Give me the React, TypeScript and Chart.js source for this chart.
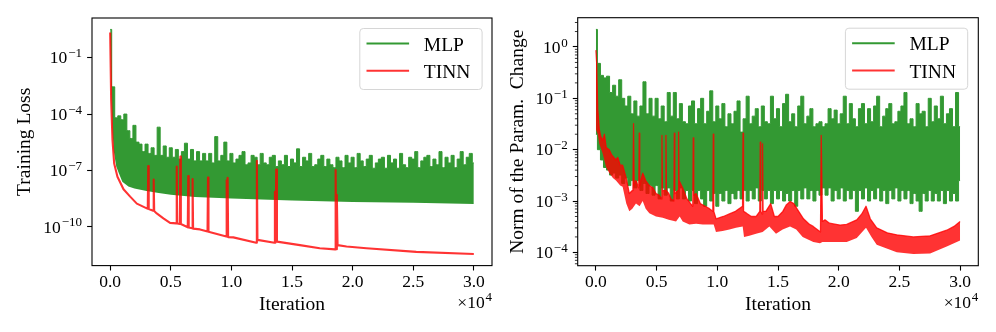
import React, { useEffect, useRef } from 'react';
import { Chart, registerables } from 'chart.js';

Chart.register(...registerables);

// ---------- shared axis data ----------
const iterGrid = [
  0, 250, 500, 750, 1000, 1250, 1500, 1750, 2000, 2250, 2500, 2750, 3000, 3250, 3500, 3750, 4000, 4250, 4500, 4750,
  5000, 5250, 5500, 5750, 6000, 6250, 6500, 6750, 7000, 7250, 7500, 7750, 8000, 8250, 8500, 8750, 9000, 9250, 9500, 9750,
  10000, 10250, 10500, 10750, 11000, 11250, 11500, 11750, 12000, 12250, 12500, 12750, 13000, 13250, 13500, 13750, 14000, 14250, 14500, 14750,
  15000, 15250, 15500, 15750, 16000, 16250, 16500, 16750, 17000, 17250, 17500, 17750, 18000, 18250, 18500, 18750, 19000, 19250, 19500, 19750,
  20000, 20250, 20500, 20750, 21000, 21250, 21500, 21750, 22000, 22250, 22500, 22750, 23000, 23250, 23500, 23750, 24000, 24250, 24500, 24750,
  25000, 25250, 25500, 25750, 26000, 26250, 26500, 26750, 27000, 27250, 27500, 27750, 28000, 28250, 28500, 28750, 29000, 29250, 29500, 29750,
  30000,
];
const xTickValues = [0, 5000, 10000, 15000, 20000, 25000, 30000];
const xTickLabels = ['0.0', '0.5', '1.0', '1.5', '2.0', '2.5', '3.0'];
const seriesNames = ['MLP', 'TINN'];

// ---------- left panel: training loss ----------
const mlpLossTop = [
  3.2, 2.8e-3, 6.3e-5, 8e-5, 5e-5, 1e-4, 1.3e-5, 5e-6, 2.5e-5, 3.2e-6,
  2.5e-6, 1e-6, 2.5e-6, 8e-7, 1.6e-6, 6.3e-7, 2e-5, 6.3e-7, 2e-6, 5e-7,
  1.6e-6, 5e-7, 1.3e-6, 4e-7, 1e-6, 2.8e-6, 4e-7, 1.3e-6, 3.2e-7, 1e-6,
  3.2e-7, 8e-7, 3.2e-7, 8e-7, 2.5e-7, 6.3e-6, 3.2e-7, 6.3e-7, 3.2e-6, 3.2e-7,
  8e-7, 2.5e-7, 4e-7, 6.3e-7, 1e-6, 2e-7, 2.5e-7, 6.3e-7, 5e-7, 2e-7,
  8e-7, 2.5e-7, 2e-7, 5e-7, 6.3e-7, 1.6e-7, 3.2e-7, 2e-7, 6.3e-7, 1.6e-7,
  4e-7, 2.5e-7, 1.4e-6, 1.6e-7, 5e-7, 3.2e-7, 8e-7, 1.6e-7, 2e-7, 4e-7,
  6.3e-7, 1.6e-7, 4e-7, 2e-7, 1.4e-7, 5e-7, 3.2e-7, 1.4e-7, 6.3e-7, 2.5e-7,
  5e-7, 1.4e-7, 8e-7, 3.2e-7, 1.6e-7, 4e-7, 6.3e-7, 1.3e-7, 2.5e-7, 4e-7,
  5e-7, 1.3e-7, 6.3e-7, 2.5e-7, 4e-7, 1.3e-7, 8e-7, 2e-7, 1.4e-7, 5e-7,
  4e-7, 1e-6, 1.4e-7, 3.2e-7, 5e-7, 6.3e-7, 1.6e-7, 4e-7, 2e-7, 1e-6,
  1.4e-7, 5e-7, 2.5e-7, 6.3e-7, 1.4e-7, 4e-7, 1e-6, 2e-7, 5e-7, 8e-7,
  2.5e-7,
];
const mlpLossLowIter = [0, 100, 200, 300, 500, 750, 1000, 1500, 2000, 3000, 4000, 5000, 7000, 10000, 15000, 20000, 25000, 30000];
const mlpLossLow = [2, 1e-3, 1e-5, 1e-6, 1.6e-7, 6.3e-8, 2.5e-8, 1.4e-8, 1.1e-8, 7.9e-9, 6.3e-9, 5e-9, 3.8e-9, 3.2e-9, 2.5e-9, 2.1e-9, 1.9e-9, 1.6e-9];

const tinnLossIter = [
  0, 80, 190, 330, 600, 1100, 1650, 2200, 3020,
  3100, 3140, 3180, 3550, 3590, 3630, 3840, 4390, 4940,
  5450, 5490, 5530, 5750, 5790, 5830, 6400, 6440, 6480,
  6760, 6800, 6840, 7410, 8030, 8070, 8110,
  9580, 9610, 9650, 9690, 9730, 10160,
  12050, 12100, 12150, 13550, 13590, 13630, 13700, 13760,
  15650, 17290, 18550, 18600, 18650, 18700, 18760,
  19500, 21140, 25250, 30000,
];
const tinnLoss = [
  2.2, 5.6e-4, 4.2e-6, 2.3e-7, 4.6e-8, 9.8e-9, 4e-9, 1.7e-9, 9.5e-10,
  9.1e-10, 1.7e-7, 8.7e-10, 7.1e-10, 3.2e-8, 6.8e-10, 5.1e-10, 2.8e-10, 1.6e-10,
  1.5e-10, 1.6e-7, 1.5e-10, 1.4e-10, 5.4e-7, 1.4e-10, 9.3e-11, 5e-8, 9.1e-11,
  8.3e-11, 3.5e-8, 7.9e-11, 7.2e-11, 5.6e-11, 4.1e-8, 5.4e-11,
  3e-11, 3e-8, 2.9e-11, 4e-8, 2.8e-11, 2.7e-11,
  1.4e-11, 3.2e-7, 2e-11, 1.4e-11, 7.2e-9, 1.4e-11, 1.1e-7, 1.6e-11,
  1.05e-11, 7.1e-12, 6.2e-12, 1.05e-7, 6.3e-12, 5e-9, 1.05e-11,
  8.9e-12, 7.1e-12, 4.6e-12, 3.5e-12,
];
const lossTickValues = [1e-1, 1e-4, 1e-7, 1e-10];
const lossTickExps = ['\u22121', '\u22124', '\u22127', '\u221210'];

// ---------- right panel: norm of the parameter change ----------
const mlpNormTop = [
  2.2, 0.48, 0.28, 0.25, 0.27, 0.13, 0.18, 0.11, 0.23, 0.1,
  0.071, 0.11, 0.05, 0.089, 0.045, 0.071, 0.21, 0.05, 0.1, 0.045,
  0.1, 0.04, 0.071, 0.035, 0.13, 0.045, 0.13, 0.04, 0.079, 0.035,
  0.032, 0.071, 0.089, 0.032, 0.063, 0.1, 0.032, 0.056, 0.14, 0.035,
  0.071, 0.04, 0.079, 0.028, 0.05, 0.032, 0.056, 0.089, 0.022, 0.04,
  0.11, 0.032, 0.045, 0.063, 0.028, 0.071, 0.035, 0.032, 0.11, 0.04,
  0.063, 0.028, 0.079, 0.12, 0.035, 0.05, 0.028, 0.071, 0.11, 0.032,
  0.045, 0.063, 0.028, 0.032, 0.035, 0.028, 0.032, 0.063, 0.04, 0.059,
  0.032, 0.05, 0.11, 0.032, 0.079, 0.04, 0.028, 0.063, 0.079, 0.032,
  0.063, 0.035, 0.071, 0.11, 0.028, 0.045, 0.063, 0.079, 0.032, 0.035,
  0.056, 0.071, 0.13, 0.032, 0.04, 0.028, 0.079, 0.05, 0.056, 0.028,
  0.1, 0.035, 0.071, 0.04, 0.11, 0.032, 0.05, 0.063, 0.028, 0.13,
  0.028,
];
const mlpNormLow = [
  0.02, 0.01, 6.3e-3, 4.5e-3, 4e-3, 3.2e-3, 3.5e-3, 2.8e-3, 3.2e-3, 2.2e-3,
  2.8e-3, 2e-3, 2.5e-3, 1.8e-3, 2.5e-3, 1.6e-3, 2.2e-3, 1.4e-3, 2e-3, 1.3e-3,
  2e-3, 1.1e-3, 1.8e-3, 1.3e-3, 1.8e-3, 1e-3, 1.6e-3, 1.1e-3, 1.8e-3, 1.1e-3,
  1.6e-3, 1e-3, 1.6e-3, 8.9e-4, 1.6e-3, 1.1e-3, 7.9e-4, 1.6e-3, 1e-3, 1.4e-3,
  7.9e-4, 1.4e-3, 1e-3, 1.6e-3, 8.9e-4, 1.4e-3, 1.1e-3, 1.6e-3, 1.1e-3, 1.6e-3,
  1e-3, 1.6e-3, 1.1e-3, 1.8e-3, 1e-3, 1.6e-3, 1.1e-3, 1.6e-3, 8.9e-4, 1.6e-3,
  1.1e-3, 1.6e-3, 1e-3, 1.4e-3, 1e-3, 1.6e-3, 7.9e-4, 1.6e-3, 1.1e-3, 1.8e-3,
  1.1e-3, 1.6e-3, 1e-3, 1.6e-3, 1.3e-3, 1.8e-3, 1.3e-3, 1.8e-3, 1e-3, 1.6e-3,
  1.1e-3, 1.8e-3, 1e-3, 1.6e-3, 1.1e-3, 1.6e-3, 6.3e-4, 1.6e-3, 1.1e-3, 1.8e-3,
  1e-3, 1.6e-3, 1.1e-3, 1.8e-3, 1e-3, 1.6e-3, 8.9e-4, 1.6e-3, 1.1e-3, 1.8e-3,
  1e-3, 1.6e-3, 1.1e-3, 1.6e-3, 8.9e-4, 1.4e-3, 1e-3, 6.3e-4, 1.4e-3, 1e-3,
  1.6e-3, 1e-3, 1.4e-3, 1e-3, 1.6e-3, 8.9e-4, 1.6e-3, 1e-3, 1.4e-3, 1e-3,
  2.5e-3,
];
const tinnNormTopIter = [
  0, 60, 150, 275, 400, 550, 700, 850, 1100, 1300,
  1650, 1800, 2000, 2200, 2500, 2750, 3000, 3050, 3100, 3150,
  3300, 3530, 3570, 3610, 3850, 4100, 4400, 4700, 4950, 5200,
  5400, 5440, 5480, 5730, 5770, 5810, 6000, 6200, 6420, 6460,
  6500, 6770, 6810, 6850, 7150, 7500, 7800, 7980, 8020, 8060,
  8250, 8600, 9000, 9350, 9630, 9670, 9710, 9900, 10500, 11000,
  11500, 12080, 12120, 12160, 12400, 12800, 13200, 13500, 13540, 13580,
  13690, 13730, 13770, 14000, 14400, 14700, 15000, 15400, 15700, 16000,
  16300, 16700, 17100, 17600, 17900, 18500, 18560, 18660, 18870, 19240,
  20110, 20660, 21490, 21900, 22250, 22600, 23130, 24000, 24780, 26150,
  27530, 28900, 29500, 30000,
];
const tinnNormTop = [
  0.87, 0.5, 0.063, 0.025, 0.018, 0.015, 0.02, 0.011, 0.01, 7.9e-3,
  6.3e-3, 7.1e-3, 5e-3, 5e-3, 2.8e-3, 1.4e-3, 1.6e-3, 1.8e-3, 0.032, 2e-3,
  2.5e-3, 1.8e-3, 0.021, 2e-3, 3.5e-3, 2.5e-3, 2e-3, 1.8e-3, 1.4e-3, 1.3e-3,
  1.1e-3, 0.019, 1.6e-3, 1.6e-3, 0.019, 1.6e-3, 1.4e-3, 1.1e-3, 1e-3, 0.021,
  1.4e-3, 1.6e-3, 0.022, 2.5e-3, 1.8e-3, 1.1e-3, 8.9e-4, 7.9e-4, 0.017, 1.3e-3,
  1.4e-3, 8.9e-4, 7.9e-4, 7.1e-4, 6.3e-4, 0.02, 6.3e-4, 4.5e-4, 5e-4, 5.6e-4,
  6.3e-4, 7.9e-4, 0.021, 6.3e-4, 5.8e-4, 5e-4, 5e-4, 6.3e-4, 0.014, 6.3e-4,
  5.6e-4, 0.013, 6.3e-4, 6.3e-4, 8.9e-4, 5e-4, 5e-4, 6.3e-4, 8.5e-4, 9.8e-4,
  8.9e-4, 6.3e-4, 4.5e-4, 3.5e-4, 3.2e-4, 2.5e-4, 0.019, 4e-4, 4.3e-4, 3.7e-4,
  3.4e-4, 3.5e-4, 4.3e-4, 5.6e-4, 7.9e-4, 4.5e-4, 3e-4, 2.4e-4, 2.2e-4, 2e-4,
  2.1e-4, 2.7e-4, 3.2e-4, 4e-4,
];
const tinnNormLowIter = [
  0, 150, 275, 550, 850, 1100, 1400, 1650, 2000, 2200,
  2500, 2750, 3000, 3300, 3600, 3850, 4100, 4400, 4950, 5500,
  6000, 6600, 6900, 7150, 7700, 8250, 8800, 9340, 9700, 9890,
  10440, 11000, 11540, 12090, 12200, 12640, 13190, 13736, 14286, 14835,
  15385, 15990, 16500, 17030, 17910, 18460, 18660, 19240, 20110, 20660,
  21490, 22250, 22700, 23130, 24780, 26150, 27530, 28900, 30000,
];
const tinnNormLow = [
  0.025, 0.02, 0.013, 8.5e-3, 4.5e-3, 3.5e-3, 2.8e-3, 2.5e-3, 2e-3, 1.9e-3,
  8.9e-4, 6.3e-4, 7.1e-4, 8.9e-4, 7.9e-4, 1e-3, 7.1e-4, 5.8e-4, 5e-4, 4.7e-4,
  4.3e-4, 4e-4, 5e-4, 4e-4, 3.5e-4, 3.6e-4, 3.5e-4, 3.5e-4, 3.5e-4, 2.5e-4,
  2.6e-4, 2.8e-4, 3e-4, 3.2e-4, 2e-4, 2.1e-4, 2.3e-4, 2.5e-4, 3.2e-4, 2.3e-4,
  2.8e-4, 3.2e-4, 2.8e-4, 2e-4, 1.6e-4, 1.5e-4, 1.6e-4, 1.6e-4, 1.6e-4, 1.6e-4,
  1.9e-4, 3e-4, 2e-4, 1.4e-4, 1e-4, 9.3e-5, 9.5e-5, 1.3e-4, 1.7e-4,
];
const normTickValues = [1, 1e-1, 1e-2, 1e-3, 1e-4];
const normTickExps = ['0', '\u22121', '\u22122', '\u22123', '\u22124'];
const normMinorMantissas = [2, 3, 4, 5, 6, 7, 8, 9];
const normMinorDecades = [1e-5, 1e-4, 1e-3, 1e-2, 1e-1, 1];

// ---------- styles ----------
const SERIF = '"Liberation Serif", "Times New Roman", serif';
const GREEN = '#339933';
const GREEN_LEGEND = 'rgba(0,128,0,0.8)';
const RED = 'rgba(255,0,0,0.8)';
const W = 498;
const H = 332;

const pairs = (xs: number[], ys: number[]) => xs.map((x, i) => ({ x, y: ys[i] }));

function decor(p: any) {
  return {
    id: 'decor',
    afterDraw(chart: any) {
      const { ctx, chartArea: a } = chart;
      const ys = chart.scales.y;
      ctx.save();
      ctx.strokeStyle = '#000';
      if (p.minor) {
        ctx.lineWidth = 0.8;
        for (const d of normMinorDecades) {
          for (const m of normMinorMantissas) {
            const py = ys.getPixelForValue(m * d);
            if (py < a.top || py > a.bottom) continue;
            ctx.beginPath();
            ctx.moveTo(a.left - 2.8, py);
            ctx.lineTo(a.left, py);
            ctx.stroke();
          }
        }
      }
      // frame
      ctx.lineWidth = 1.1;
      ctx.strokeRect(a.left, a.top, a.right - a.left, a.bottom - a.top);
      // y tick labels (10^n)
      ctx.fillStyle = '#000';
      ctx.textBaseline = 'alphabetic';
      ctx.textAlign = 'left';
      p.yTicks.forEach((v: number, i: number) => {
        const py = ys.getPixelForValue(v);
        ctx.font = `13px ${SERIF}`;
        const ew = ctx.measureText(p.yExps[i]).width;
        ctx.font = `17.5px ${SERIF}`;
        const bw = ctx.measureText('10').width;
        const xr = a.left - 10;
        ctx.fillText('10', xr - ew - bw - 0.8, py + 5.8);
        ctx.font = `13px ${SERIF}`;
        ctx.fillText(p.yExps[i], xr - ew, py - 0.3);
      });
      // offset text  x10^4
      ctx.font = `17.5px ${SERIF}`;
      const w1 = ctx.measureText('\u00d710').width;
      ctx.font = `13px ${SERIF}`;
      const w2 = ctx.measureText('4').width;
      const ox = a.right - w1 - w2 - 0.8;
      ctx.font = `17.5px ${SERIF}`;
      ctx.fillText('\u00d710', ox, a.bottom + 42);
      ctx.font = `13px ${SERIF}`;
      ctx.fillText('4', ox + w1 + 0.8, a.bottom + 35.5);
      // legend
      const bw = 122.3;
      const bh = 61;
      const bx = a.right - p.legendGap - bw;
      const by = a.top + 10.5;
      ctx.beginPath();
      ctx.roundRect(bx, by, bw, bh, 3.5);
      ctx.fillStyle = 'rgba(255,255,255,0.8)';
      ctx.fill();
      ctx.strokeStyle = '#d6d6d6';
      ctx.lineWidth = 1;
      ctx.stroke();
      const cols = [GREEN_LEGEND, RED];
      seriesNames.forEach((name, i) => {
        const y = by + 15 + i * 27.3;
        ctx.strokeStyle = cols[i];
        ctx.lineWidth = 2.1;
        ctx.beginPath();
        ctx.moveTo(bx + 6.7, y);
        ctx.lineTo(bx + 49.3, y);
        ctx.stroke();
        ctx.fillStyle = '#000';
        ctx.font = `19.5px ${SERIF}`;
        ctx.fillText(name, bx + 64, y + 7);
      });
      ctx.restore();
    },
  };
}

function buildConfig(p: any) {
  const tickGrid = {
    display: true,
    drawOnChartArea: false,
    drawTicks: true,
    tickLength: 4.9,
    tickWidth: 1.1,
    tickColor: '#000',
  };
  return {
    type: 'line',
    data: { datasets: p.datasets },
    options: {
      responsive: false,
      animation: false,
      devicePixelRatio: 1,
      events: [],
      layout: { padding: { left: 0, bottom: 0, top: p.padTop, right: p.padRight } },
      elements: { point: { radius: 0 }, line: { tension: 0, borderJoinStyle: 'round' } },
      plugins: { legend: { display: false }, tooltip: { enabled: false } },
      scales: {
        x: {
          type: 'linear',
          min: -1500,
          max: 31500,
          afterBuildTicks: (s: any) => {
            s.ticks = xTickValues.map((v) => ({ value: v }));
          },
          afterFit: (s: any) => {
            s.height = p.xAxisHeight;
          },
          grid: tickGrid,
          border: { display: false },
          ticks: {
            autoSkip: false,
            maxRotation: 0,
            padding: 1.5,
            color: '#000',
            font: { family: SERIF, size: 17.5 },
            callback: (_v: any, i: number) => xTickLabels[i],
          },
          title: {
            display: true,
            text: 'Iteration',
            color: '#000',
            font: { family: SERIF, size: 19.5 },
            padding: { top: 0, bottom: 15 },
          },
        },
        y: {
          type: 'logarithmic',
          min: p.yMin,
          max: p.yMax,
          afterBuildTicks: (s: any) => {
            s.ticks = p.yTicks.map((v: number) => ({ value: v }));
          },
          afterFit: (s: any) => {
            s.width = p.yAxisWidth;
          },
          grid: tickGrid,
          border: { display: false },
          ticks: { display: false },
          title: {
            display: true,
            text: p.yTitle,
            color: '#000',
            font: { family: SERIF, size: 19.5 },
            padding: { top: p.yTitlePad, bottom: 0 },
          },
        },
      },
    },
    plugins: [decor(p)],
  };
}

const lossPanel = {
  left: 0,
  padTop: 18,
  padRight: 6,
  yAxisWidth: 92,
  xAxisHeight: 66.4,
  yMin: 8.5e-13,
  yMax: 13,
  yTicks: lossTickValues,
  yExps: lossTickExps,
  yTitle: 'Training Loss',
  yTitlePad: 13.4,
  legendGap: 9.9,
  minor: false,
  datasets: [
    {
      label: 'TINN',
      data: pairs(tinnLossIter, tinnLoss),
      borderColor: RED,
      borderWidth: 2.1,
      fill: false,
      order: 0,
    },
    {
      label: 'MLP',
      data: pairs(iterGrid, mlpLossTop),
      borderColor: GREEN,
      backgroundColor: GREEN,
      borderWidth: 1,
      stepped: 'middle',
      fill: 2,
      order: 1,
    },
    {
      label: 'MLP (lower)',
      data: pairs(mlpLossLowIter, mlpLossLow),
      borderColor: GREEN,
      borderWidth: 0,
      fill: false,
      order: 1,
    },
  ],
};

const normPanel = {
  left: 498,
  padTop: 17.7,
  padRight: 17.7,
  yAxisWidth: 79.7,
  xAxisHeight: 66.3,
  yMin: 5.5e-5,
  yMax: 3.72,
  yTicks: normTickValues,
  yExps: normTickExps,
  yTitle: 'Norm of the Param.  Change',
  yTitlePad: 8,
  legendGap: 10.6,
  minor: true,
  datasets: [
    {
      label: 'TINN',
      data: pairs(tinnNormTopIter, tinnNormTop),
      borderColor: RED,
      backgroundColor: RED,
      borderWidth: 1.3,
      fill: 1,
      order: 0,
    },
    {
      label: 'TINN (lower)',
      data: pairs(tinnNormLowIter, tinnNormLow),
      borderColor: RED,
      borderWidth: 0,
      fill: false,
      order: 0,
    },
    {
      label: 'MLP',
      data: pairs(iterGrid, mlpNormTop),
      borderColor: GREEN,
      backgroundColor: GREEN,
      borderWidth: 1,
      stepped: 'middle',
      fill: 3,
      order: 1,
    },
    {
      label: 'MLP (lower)',
      data: pairs(iterGrid, mlpNormLow),
      borderColor: GREEN,
      borderWidth: 1,
      stepped: 'middle',
      fill: false,
      order: 1,
    },
  ],
};

function Panel({ spec }: { spec: any }) {
  const ref = useRef<HTMLCanvasElement | null>(null);
  useEffect(() => {
    const chart = new Chart(ref.current as HTMLCanvasElement, buildConfig(spec) as any);
    return () => chart.destroy();
  }, [spec]);
  return (
    <canvas
      ref={ref}
      width={W}
      height={H}
      style={{ position: 'absolute', left: spec.left, top: 0, width: W, height: H, display: 'block' }}
    />
  );
}

export default function App() {
  return (
    <div style={{ position: 'fixed', left: 0, top: 0, width: 996, height: 332, background: '#fff' }}>
      <Panel spec={lossPanel} />
      <Panel spec={normPanel} />
    </div>
  );
}
